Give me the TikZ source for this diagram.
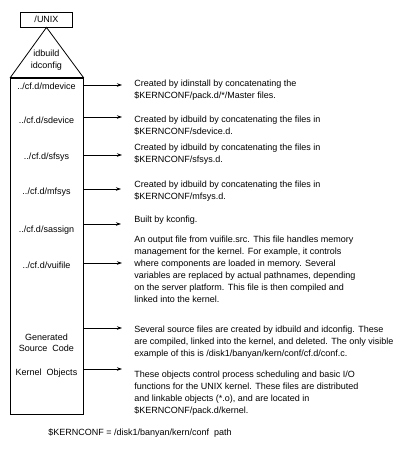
\documentclass[tikz,border=0pt]{standalone}
\usepackage{fontspec}
\setmainfont{Liberation Sans}
\usetikzlibrary{positioning,arrows.meta}

\begin{document}
\begin{tikzpicture}[x=1pt,y=-1pt,line width=.8pt,
 lbl/.style={inner sep=0pt,align=center,font=\fontsize{9}{11.5}\selectfont},
 desc/.style={inner sep=0pt,anchor=north west,align=left,font=\fontsize{9}{12}\selectfont},
 a/.style={-{Stealth[length=5pt,width=3.5pt]},line width=.8pt}]
\useasboundingbox (0,0) rectangle (412,459);
% directory and build tools on top
\node[draw,minimum width=52pt,minimum height=15pt,inner sep=0pt,font=\fontsize{9}{10}\selectfont] (unix) at (46.5,19.5) {/UNIX};
\node[draw,minimum width=73pt,minimum height=336pt,anchor=north west,inner sep=0pt] (kit) at (10,78) {};
\draw (kit.north west) -- (unix.south) -- (kit.north east);
\draw[line width=2pt] (kit.north west) -- (kit.north east);
\node[lbl] (tools) at (46.5,60) {idbuild\\idconfig};
% files in the kit
\node[lbl] (mdev) at (46.5,86) {../cf.d/mdevice};
\node[lbl] (sdev) at (46.5,120) {../cf.d/sdevice};
\node[lbl] (sfs) at (46.5,157) {../cf.d/sfsys};
\node[lbl] (mfs) at (46.5,192) {../cf.d/mfsys};
\node[lbl] (sas) at (46.5,230) {../cf.d/sassign};
\node[lbl] (vui) at (46.5,265) {../cf.d/vuifile};
\node[lbl] (gen) at (46.5,343) {Generated\\Source~ Code};
\node[lbl] (obj) at (46.5,373) {Kernel~ Objects};
% what each one is
\node[desc] (mdevd) at (134,79.5) {Created by idinstall by concatenating the\\\$KERNCONF/pack.d/*/Master files.};
\node[desc] (sdevd) at (134,115.5) {Created by idbuild by concatenating the files in\\\$KERNCONF/sdevice.d.};
\node[desc] (sfsd) at (134,143.5) {Created by idbuild by concatenating the files in\\\$KERNCONF/sfsys.d.};
\node[desc] (mfsd) at (134,180.5) {Created by idbuild by concatenating the files in\\\$KERNCONF/mfsys.d.};
\node[desc] (sasd) at (134,216) {Built by kconfig.};
\node[desc] (vuid) at (134,235.5) {An output file from vuifile.src. This file handles memory\\management for the kernel. For example, it controls\\where components are loaded in memory. Several\\variables are replaced by actual pathnames, depending\\on the server platform. This file is then compiled and\\linked into the kernel.};
\node[desc] (gend) at (134,326) {Several source files are created by idbuild and idconfig. These\\are compiled, linked into the kernel, and deleted. The only visible\\example of this is /disk1/banyan/kern/conf/cf.d/conf.c.};
\node[desc] (objd) at (134,370.5) {These objects control process scheduling and basic I/O\\functions for the UNIX kernel. These files are distributed\\and linkable objects (*.o), and are located in\\\$KERNCONF/pack.d/kernel.};
\node[lbl,anchor=west] (path) at (48,433) {\$KERNCONF = /disk1/banyan/kern/conf~~path};
% arrows
\coordinate (mdeva) at (122,85);
\coordinate (sdeva) at (122,117);
\coordinate (sfsa) at (122,155);
\coordinate (mfsa) at (121,189);
\coordinate (sasa) at (121,224);
\coordinate (vuia) at (122,263);
\coordinate (gena) at (122,328);
\coordinate (obja) at (122,369);
\draw[a] (kit.east |- mdeva) -- (mdeva);
\draw[a] (kit.east |- sdeva) -- (sdeva);
\draw[a] (kit.east |- sfsa) -- (sfsa);
\draw[a] (kit.east |- mfsa) -- (mfsa);
\draw[a] (kit.east |- sasa) -- (sasa);
\draw[a] (kit.east |- vuia) -- (vuia);
\draw[a] (kit.east |- gena) -- (gena);
\draw[a] (kit.east |- obja) -- (obja);
\end{tikzpicture}
\end{document}
